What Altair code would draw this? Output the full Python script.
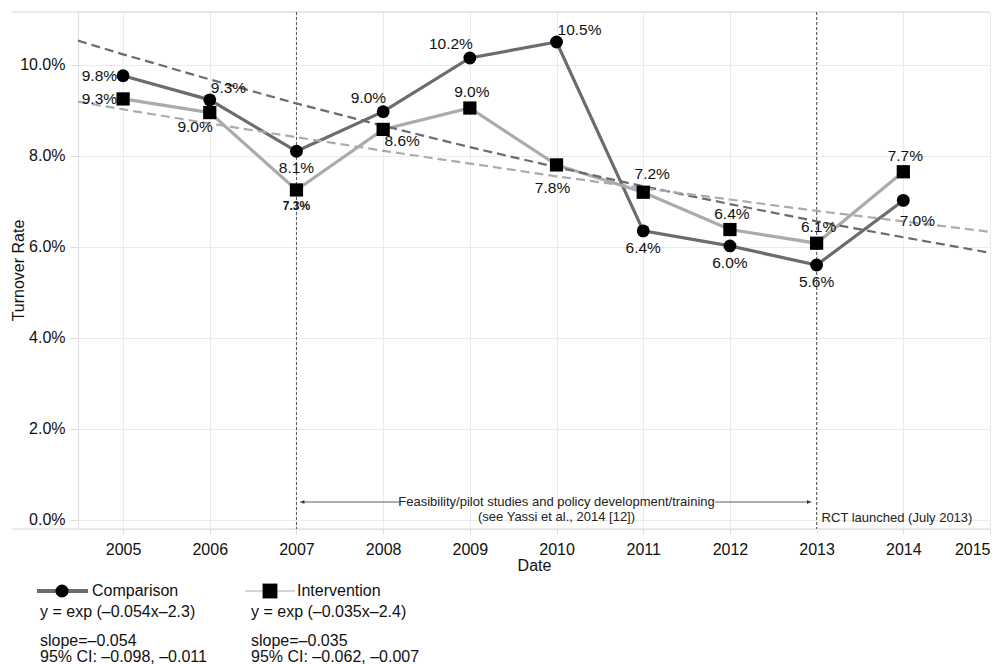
import altair as alt
import pandas as pd

# ---------------- data ----------------
years = list(range(2005, 2015))
comparison = [9.76, 9.23, 8.10, 8.97, 10.15, 10.50, 6.35, 6.02, 5.60, 7.02]
intervention = [9.25, 8.95, 7.25, 8.58, 9.05, 7.80, 7.20, 6.38, 6.08, 7.65]
comparison_labels = ["9.8%", "9.3%", "8.1%", "9.0%", "10.2%", "10.5%", "6.4%", "6.0%", "5.6%", "7.0%"]
intervention_labels = ["9.3%", "9.0%", "7.3%", "8.6%", "9.0%", "7.8%", "7.2%", "6.4%", "6.1%", "7.7%"]
comparison_label_side = ["left", "above-right", "below", "above-left", "above-left",
                         "above-right", "below", "below", "below", "below-right"]
intervention_label_side = ["left", "below-left", "below-small", "right", "above",
                           "below-far", "above-shift", "above", "above", "above"]

# fitted exponential trend lines at the panel edges and each year
trend_years = [2004.48, 2005, 2006, 2007, 2008, 2009, 2010, 2011, 2012, 2013, 2014, 2015]
comparison_trend = [10.53, 10.23, 9.68, 9.15, 8.66, 8.19, 7.75, 7.33, 6.94, 6.56, 6.21, 5.87]
intervention_trend = [9.19, 9.02, 8.71, 8.41, 8.11, 7.83, 7.55, 7.29, 7.04, 6.79, 6.56, 6.33]

x_ticks = list(range(2005, 2016))
y_ticks = [0, 2, 4, 6, 8, 10]
milestones = [2007, 2013]

annot_line1 = "Feasibility/pilot studies and policy development/training"
annot_line2 = "(see Yassi et al., 2014 [12])"
annot_rct = "RCT launched (July 2013)"

legend_comp = ["Comparison", "y = exp (\u20130.054x\u20132.3)", "slope=\u20130.054", "95% CI: \u20130.098, \u20130.011"]
legend_int = ["Intervention", "y = exp (\u20130.035x\u20132.4)", "slope=\u20130.035", "95% CI: \u20130.062, \u20130.007"]

# ---------------- styling ----------------
FONT = "Liberation Sans"
DARK = "#6b6b70"
LIGHT = "#a8acac"
TREND_DARK = "#6e6e6e"
TREND_LIGHT = "#b3b3b3"
GRID = "#ebebeb"
W, H = 912, 517

df = pd.DataFrame({
    "year": years * 2,
    "value": comparison + intervention,
    "series": ["Comparison"] * len(years) + ["Intervention"] * len(years),
    "label": comparison_labels + intervention_labels,
    "side": comparison_label_side + intervention_label_side,
})

trend_df = pd.DataFrame({
    "year": trend_years * 2,
    "value": comparison_trend + intervention_trend,
    "series": ["Comparison"] * len(trend_years) + ["Intervention"] * len(trend_years),
})

xs = alt.Scale(domain=[2004.48, 2015], nice=False, zero=False)
ys = alt.Scale(domain=[-0.2, 11.16], nice=False, zero=False)
color = alt.Color("series:N", scale=alt.Scale(domain=["Comparison", "Intervention"], range=[DARK, LIGHT]), legend=None)
tcolor = alt.Color("series:N", scale=alt.Scale(domain=["Comparison", "Intervention"], range=[TREND_DARK, TREND_LIGHT]), legend=None)

x_axis = alt.Axis(
    values=x_ticks, format="d", title="Date", grid=True, gridColor=GRID, domain=False,
    ticks=True, tickColor="#dddddd", tickSize=5, labelPadding=7,
    labelFont=FONT, labelFontSize=16, labelColor="#111", titleFont=FONT, titleFontSize=16,
    titleFontWeight="normal", titleColor="#111", titleBaseline="middle", titleY=36)
y_axis = alt.Axis(
    values=y_ticks, labelExpr="format(datum.value, '.1f') + '%'", title="Turnover Rate",
    grid=True, gridColor=GRID, domain=False, ticks=True, tickColor="#dddddd", tickSize=8,
    labelPadding=5, labelFont=FONT, labelFontSize=16, labelColor="#111",
    titleFont=FONT, titleFontSize=16, titleFontWeight="normal", titleColor="#111",
    titleAngle=-90, titleX=-60, titleY=258, titleAlign="center", titleBaseline="middle")
X = alt.X("year:Q", scale=xs, axis=x_axis)
Y = alt.Y("value:Q", scale=ys, axis=y_axis)

base = alt.Chart(df)

lines = base.mark_line(strokeWidth=3.2).encode(x=X, y=Y, color=color, detail="series:N")

trends = alt.Chart(trend_df).mark_line(strokeWidth=2.2, strokeDash=[9, 5]).encode(
    x=X, y=Y, color=tcolor, detail="series:N")

circles = base.transform_filter(alt.datum.series == "Comparison").mark_point(
    shape="circle", filled=True, size=165, color="black", opacity=1).encode(x=X, y=Y)
squares = base.transform_filter(alt.datum.series == "Intervention").mark_point(
    shape="square", filled=True, size=175, color="black", opacity=1).encode(x=X, y=Y)

side_style = {
    "left": dict(dx=-6, dy=0, align="right"),
    "above-right": dict(dx=1, dy=-12, align="left"),
    "above-left": dict(dx=3, dy=-14, align="right"),
    "below": dict(dx=0, dy=17, align="center"),
    "below-far": dict(dx=-4, dy=23, align="center"),
    "below-small": dict(dx=0, dy=16, align="center", fontSize=12, fontWeight="bold"),
    "below-left": dict(dx=3, dy=14, align="right"),
    "below-right": dict(dx=14, dy=21, align="center"),
    "right": dict(dx=19, dy=12, align="center"),
    "above": dict(dx=2, dy=-16, align="center"),
    "above-shift": dict(dx=9, dy=-18, align="center"),
}
label_layers = []
for side, st in side_style.items():
    st = dict(st)
    fs = st.pop("fontSize", 15.5)
    label_layers.append(
        base.transform_filter(alt.datum.side == side).mark_text(
            baseline="middle", font=FONT, fontSize=fs, color="#111", **st
        ).encode(x=X, y=Y, text="label:N"))

# milestone vertical dashed lines
mile_df = pd.DataFrame({"year": milestones})
miles = alt.Chart(mile_df).mark_rule(color="#555555", strokeWidth=1, strokeDash=[3, 2]).encode(
    x=X, y=alt.value(0), y2=alt.value(H))

# frame lines at top and bottom extending left over the axis labels
one = pd.DataFrame({"k": [0]})
frame_top = alt.Chart(one).mark_rule(color="#e4e4e4", strokeWidth=1.5).encode(
    x=alt.value(-66), x2=alt.value(W), y=alt.value(0))
frame_bot = alt.Chart(one).mark_rule(color="#e4e4e4", strokeWidth=1.5).encode(
    x=alt.value(-66), x2=alt.value(W), y=alt.value(H))

# annotation arrow
arrow_y = 490
seg_df = pd.DataFrame({"year": [milestones[0] + 0.04, 2011.83], "year2": [2008.2, milestones[1] - 0.06]})
segs = alt.Chart(seg_df).mark_rule(color="#333", strokeWidth=0.8).encode(
    x=X, x2="year2:Q", y=alt.value(arrow_y))
head_l = alt.Chart(pd.DataFrame({"year": [milestones[0] + 0.07]})).mark_point(
    shape="triangle-left", filled=True, size=18, color="#333", opacity=1).encode(x=X, y=alt.value(arrow_y))
head_r = alt.Chart(pd.DataFrame({"year": [milestones[1] - 0.09]})).mark_point(
    shape="triangle-right", filled=True, size=18, color="#333", opacity=1).encode(x=X, y=alt.value(arrow_y))
mid = (milestones[0] + milestones[1]) / 2
annot1 = alt.Chart(pd.DataFrame({"year": [mid], "t": [annot_line1]})).mark_text(
    font=FONT, fontSize=13, color="#222", baseline="middle").encode(x=X, y=alt.value(arrow_y), text="t:N")
annot2 = alt.Chart(pd.DataFrame({"year": [mid], "t": [annot_line2]})).mark_text(
    font=FONT, fontSize=13, color="#222", baseline="middle").encode(x=X, y=alt.value(arrow_y + 15), text="t:N")
rct = alt.Chart(pd.DataFrame({"year": [milestones[1]], "t": [annot_rct]})).mark_text(
    font=FONT, fontSize=13, color="#222", baseline="middle", align="left", dx=5).encode(
    x=X, y=alt.value(arrow_y + 16), text="t:N")

# custom legend below
def txt(s, x, y, size=16):
    return alt.Chart(pd.DataFrame({"t": [s]})).mark_text(
        align="left", baseline="middle", font=FONT, fontSize=size, color="#111"
    ).encode(x=alt.value(x), y=alt.value(y), text="t:N")

LY = [579, 600, 629, 645]
leg = []
leg.append(alt.Chart(one).mark_rule(color=DARK, strokeWidth=4).encode(
    x=alt.value(-41), x2=alt.value(10), y=alt.value(LY[0])))
leg.append(alt.Chart(one).mark_point(
    shape="circle", filled=True, size=170, color="black", opacity=1).encode(x=alt.value(-16), y=alt.value(LY[0])))
leg.append(alt.Chart(one).mark_rule(color="#aaaaaa", strokeWidth=1).encode(
    x=alt.value(167), x2=alt.value(217), y=alt.value(LY[0])))
leg.append(alt.Chart(one).mark_point(
    shape="square", filled=True, size=220, color="black", opacity=1).encode(x=alt.value(192), y=alt.value(LY[0])))
leg.append(txt(legend_comp[0], 14, LY[0]))
leg.append(txt(legend_int[0], 219, LY[0]))
for i in range(1, 4):
    leg.append(txt(legend_comp[i], -38, LY[i]))
    leg.append(txt(legend_int[i], 173, LY[i]))

chart = alt.layer(
    lines, frame_top, frame_bot, miles, trends, circles, squares, *label_layers,
    segs, head_l, head_r, annot1, annot2, rct, *leg
).properties(
    width=W, height=H,
    autosize=alt.AutoSizeParams(type="none"),
    padding={"left": 70, "top": 4, "right": 5, "bottom": 138},
).configure_view(stroke="#e4e4e4", strokeWidth=1.5).configure(background="white")

chart.save("out.html", embed_options={"renderer": "svg", "actions": False})
